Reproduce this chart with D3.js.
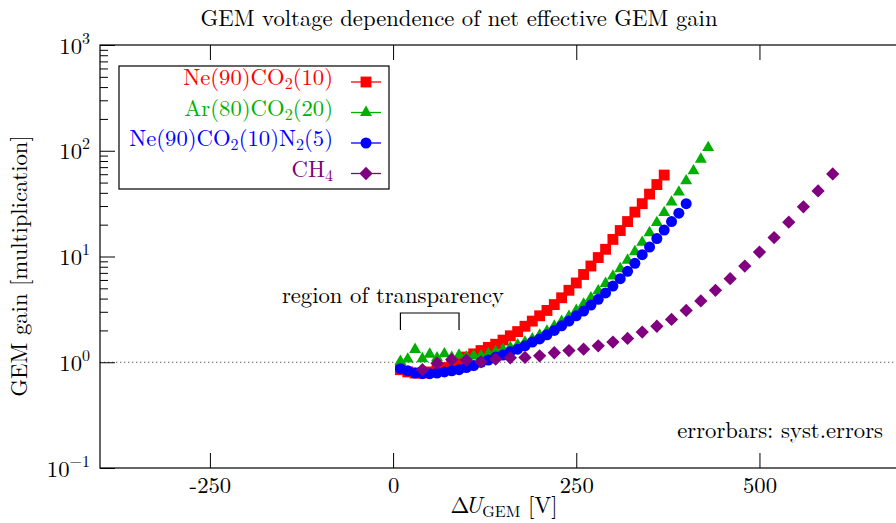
<!DOCTYPE html>
<html>
<head>
<meta charset="utf-8">
<script src="https://cdn.jsdelivr.net/npm/d3@7"></script>
<style>
body { margin: 0; background: #fff; }
</style>
</head>
<body>
<svg id="chart" width="896" height="523" font-family="'Latin Modern Roman', 'Liberation Serif', serif"></svg>
<script>
// data (gain vs. GEM voltage difference)
var voltNeCO2 = [10,20,30,40,50,60,70,80,90,100,110,120,130,140,150,160,170,180,190,200,
                 210,220,230,240,250,260,270,280,290,300,310,320,330,340,350,360,370];
var gainNeCO2 = [0.85,0.81,0.79,0.79,0.81,0.85,0.89,0.95,1.02,1.12,1.20,1.29,1.38,1.48,1.62,1.78,1.95,2.19,2.45,2.75,
                 3.09,3.51,4.07,4.79,5.62,6.76,8.13,9.77,11.7,14.5,17.6,21.4,26.3,31.6,38.9,47.9,58.9];

var voltArCO2 = [10,20,30,40,50,60,70,80,90,100,110,120,130,140,150,160,170,180,190,200,
                 210,220,230,240,250,260,270,280,290,300,310,320,330,340,350,360,370,380,390,400,
                 410,420,430];
var gainArCO2 = [1.02,1.07,1.32,1.08,1.19,1.10,1.20,1.11,1.17,1.12,1.15,1.15,1.20,1.26,1.32,1.38,1.46,1.55,1.66,1.80,
                 1.97,2.19,2.43,2.72,3.09,3.55,4.07,4.73,5.56,6.53,7.67,9.23,11.1,13.6,16.8,20.9,26.0,32.7,40.7,51.9,
                 64.6,83.2,107];

var voltNeCO2N2 = [10,20,30,40,50,60,70,80,90,100,110,120,130,140,150,160,170,180,190,200,
                   210,220,230,240,250,260,270,280,290,300,310,320,330,340,350,360,370,380,390,400];
var gainNeCO2N2 = [0.87,0.83,0.79,0.78,0.78,0.79,0.81,0.83,0.85,0.89,0.93,1.00,1.05,1.12,1.17,1.26,1.33,1.43,1.55,1.66,
                   1.82,2.00,2.21,2.45,2.75,3.05,3.47,3.94,4.52,5.25,6.17,7.24,8.61,10.4,12.3,14.8,17.8,21.4,25.7,31.6];

var voltCH4 = [40,60,80,100,120,140,160,180,200,220,240,260,280,300,320,340,360,380,400,420,
               440,460,480,500,520,540,560,580,600];
var gainCH4 = [0.85,0.98,1.06,1.05,1.01,1.07,1.10,1.11,1.15,1.23,1.29,1.33,1.43,1.55,1.68,1.93,2.19,2.54,3.09,3.80,
               4.79,6.17,8.13,11.0,15.1,21.1,29.5,41.7,60.3];

// legend labels: [text, subscript?]
var labelNeCO2 = [["Ne(90)CO", false], ["2", true], ["(10)", false]];
var labelArCO2 = [["Ar(80)CO", false], ["2", true], ["(20)", false]];
var labelNeCO2N2 = [["Ne(90)CO", false], ["2", true], ["(10)N", false], ["2", true], ["(5)", false]];
var labelCH4 = [["CH", false], ["4", true]];

var xTicks = [-250, 0, 250, 500];
var yTicks = [0.1, 1, 10, 100, 1000];
var yMinorTicks = [2,3,4,5,6,7,8,9,20,30,40,50,60,70,80,90,200,300,400,500,600,700,800,900];

var FS = 22.7;    // main font size
var SUB = 16;     // sub/superscript size

var svg = d3.select('#chart');
var x = d3.scaleLinear().domain([-400, 700]).range([100, 906]);
var y = d3.scaleLog().domain([0.1, 1000]).range([468, 45]);

var series = [
    {label: labelNeCO2, volt: voltNeCO2, gain: gainNeCO2, color: '#ff0000', sym: d3.symbolSquare, size: 118, rot: 0},
    {label: labelArCO2, volt: voltArCO2, gain: gainArCO2, color: '#00b000', sym: d3.symbolTriangle, size: 62, rot: 0},
    {label: labelNeCO2N2, volt: voltNeCO2N2, gain: gainNeCO2N2, color: '#0000ff', sym: d3.symbolCircle, size: 95, rot: 0},
    {label: labelCH4, volt: voltCH4, gain: gainCH4, color: '#800080', sym: d3.symbolSquare, size: 88, rot: 45}
];

function styleAxis(g) {
    g.attr('font-family', null).attr('font-size', FS);
    g.select('.domain').remove();
    g.selectAll('.tick line').attr('stroke', '#000');
    g.selectAll('.tick text').attr('fill', '#000');
}

// gain = 1 reference line
svg.append('line')
    .attr('x1', x.range()[0]).attr('x2', x.range()[1])
    .attr('y1', y(1)).attr('y2', y(1))
    .attr('stroke', '#555').attr('stroke-width', 1.2)
    .attr('stroke-dasharray', '1.3,2.7');

// axes
svg.append('g').attr('transform', 'translate(0,468)')
    .call(d3.axisBottom(x).tickValues(xTicks).tickSize(-15).tickPadding(9).tickFormat(d => String(d)))
    .call(styleAxis);
svg.append('g').attr('transform', 'translate(0,45)')
    .call(d3.axisTop(x).tickValues(xTicks).tickSize(-15).tickFormat(''))
    .call(styleAxis);
svg.append('g').attr('transform', 'translate(100,0)')
    .call(d3.axisLeft(y).tickValues(yMinorTicks).tickSize(-8).tickFormat(''))
    .call(styleAxis);
var yAxis = svg.append('g').attr('transform', 'translate(100,0)')
    .call(d3.axisLeft(y).tickValues(yTicks).tickSize(-15).tickPadding(10).tickFormat(''))
    .call(styleAxis);
yAxis.selectAll('.tick text').each(function(d) {
    var t = d3.select(this).attr('dy', null).attr('y', 8);
    t.append('tspan').text('10');
    t.append('tspan').attr('dy', -10).attr('font-size', SUB)
        .text(String(Math.round(Math.log10(d))).replace('-', '\u2212'));
});

// frame
svg.append('rect')
    .attr('x', 100).attr('y', 45).attr('width', 806).attr('height', 423)
    .attr('fill', 'none').attr('stroke', '#000').attr('stroke-width', 1.2);

// data markers
series.forEach(function(s) {
    var pts = s.volt.map((v, i) => [v, s.gain[i]]);
    svg.append('g').attr('fill', s.color)
        .selectAll('path').data(pts).enter().append('path')
        .attr('d', d3.symbol().type(s.sym).size(s.size))
        .attr('transform', d => 'translate(' + x(d[0]) + ',' + y(d[1]) + ') rotate(' + s.rot + ')');
});

// region of transparency annotation
svg.append('path')
    .attr('d', 'M' + x(10) + ',330V313H' + x(90) + 'V330')
    .attr('fill', 'none').attr('stroke', '#000').attr('stroke-width', 1.2);
svg.append('text').attr('x', 393).attr('y', 303).attr('text-anchor', 'middle')
    .attr('font-size', FS).text('region of transparency');

svg.append('text').attr('x', 883).attr('y', 438).attr('text-anchor', 'end')
    .attr('font-size', FS).text('errorbars: syst.errors');

// legend
var legend = svg.append('g');
legend.append('rect')
    .attr('x', 119).attr('y', 66).attr('width', 270).attr('height', 123)
    .attr('fill', '#fff').attr('stroke', '#000').attr('stroke-width', 1.2);
series.forEach(function(s, i) {
    var ly = 82 + i * 30.5;
    var t = legend.append('text').attr('x', 333).attr('y', ly + 7)
        .attr('text-anchor', 'end').attr('font-size', FS).attr('fill', s.color);
    s.label.forEach(function(p) {
        if (p[1]) t.append('tspan').attr('dy', 4).attr('font-size', SUB).text(p[0]);
        else t.append('tspan').attr('dy', t.selectAll('tspan').size() ? -4 : 0).text(p[0]);
    });
    legend.append('line').attr('x1', 351).attr('x2', 381).attr('y1', ly).attr('y2', ly)
        .attr('stroke', s.color).attr('stroke-width', 1.3);
    legend.append('path')
        .attr('d', d3.symbol().type(s.sym).size(s.size))
        .attr('transform', 'translate(366,' + ly + ') rotate(' + s.rot + ')')
        .attr('fill', s.color);
});

// titles
svg.append('text').attr('x', 459).attr('y', 26).attr('text-anchor', 'middle')
    .attr('font-size', FS).text('GEM voltage dependence of net effective GEM gain');

svg.append('text').attr('transform', 'translate(27,266) rotate(-90)')
    .attr('text-anchor', 'middle').attr('font-size', FS).text('GEM gain [multiplication]');

var xl = svg.append('text').attr('x', 504).attr('y', 513).attr('text-anchor', 'middle').attr('font-size', FS);
xl.append('tspan').text('\u0394');
xl.append('tspan').attr('dx', -4).style('font-style', 'italic').text('U');
xl.append('tspan').attr('dy', 4).attr('font-size', SUB).text('GEM');
xl.append('tspan').attr('dy', -4).text(' [V]');
</script>
</body>
</html>
